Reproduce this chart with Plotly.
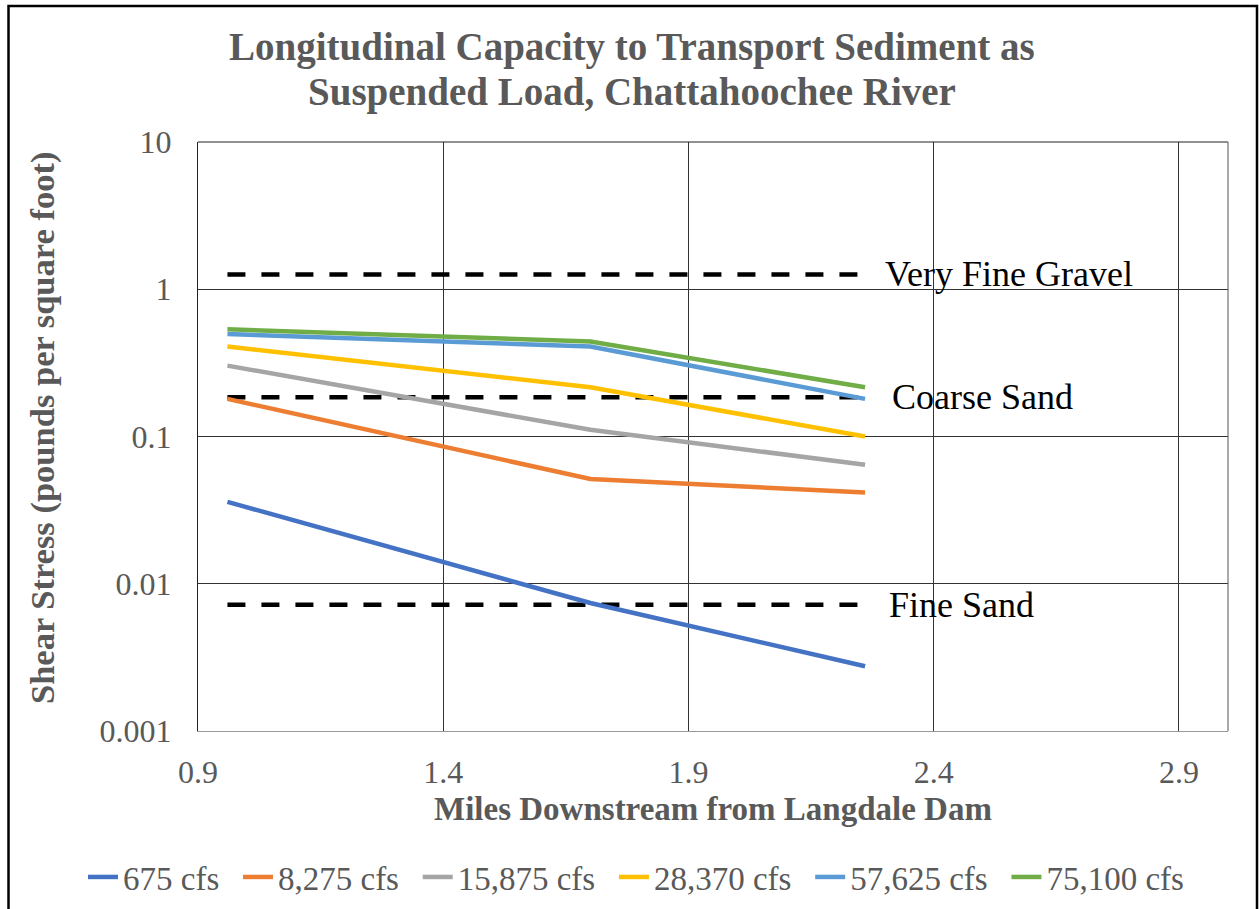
import plotly.graph_objects as go
import math

# ---------------- data ----------------
miles = [0.96, 1.70, 2.26]
series_names = ["675 cfs", "8,275 cfs", "15,875 cfs", "28,370 cfs", "57,625 cfs", "75,100 cfs"]
s675 = [0.036, 0.0074, 0.00275]
s8275 = [0.180, 0.0514, 0.0417]
s15875 = [0.303, 0.111, 0.0643]
s28370 = [0.408, 0.216, 0.100]
s57625 = [0.496, 0.408, 0.180]
s75100 = [0.535, 0.441, 0.216]
series_values = [s675, s8275, s15875, s28370, s57625, s75100]
series_colors = ["#4472C4", "#ED7D31", "#A5A5A5", "#FFC000", "#5B9BD5", "#70AD47"]

threshold_names = ["Very Fine Gravel", "Coarse Sand", "Fine Sand"]
threshold_values = [1.26, 0.185, 0.0072]
threshold_label_x = [2.296, 2.31, 2.304]

x_ticks = [0.9, 1.4, 1.9, 2.4, 2.9]
x_tick_text = ["0.9", "1.4", "1.9", "2.4", "2.9"]
y_ticks = [0.001, 0.01, 0.1, 1, 10]
y_tick_text = ["0.001", "0.01", "0.1", "1", "10"]

title_lines = ["Longitudinal Capacity to Transport Sediment as",
               "Suspended Load, Chattahoochee River"]
x_title = "Miles Downstream from Langdale Dam"
y_title = "Shear Stress (pounds per square foot)"

FONT = "Liberation Serif"
GRAY = "#595959"
PAD = "\u00a0\u2006"

fig = go.Figure()

# threshold dashed lines
for name, val in zip(threshold_names, threshold_values):
    fig.add_trace(go.Scatter(
        x=[miles[0], miles[-1]], y=[val, val], mode="lines",
        line=dict(color="black", width=4.5, dash="18px,16px"),
        showlegend=False, hoverinfo="skip", name=name))

for name, vals, col in zip(series_names, series_values, series_colors):
    fig.add_trace(go.Scatter(
        x=miles, y=vals, mode="lines", name=name + PAD,
        line=dict(color=col, width=4.5)))

for name, val, lx in zip(threshold_names, threshold_values, threshold_label_x):
    fig.add_annotation(x=lx, y=math.log10(val), xref="x", yref="y",
                       text=name, showarrow=False, xanchor="left", yanchor="middle",
                       font=dict(family=FONT, size=36, color="black"))

# plot area: x 198..1228, y 142..731
L, R, T, B = 198, 1228, 142, 731
W, H = 1259, 909
pw, ph = R - L, B - T

def px(xp):
    return (xp - L) / pw

def py(yp):
    return (B - yp) / ph

# title (two lines)
for line, yc in zip(title_lines, [47, 92]):
    fig.add_annotation(x=px(632), y=py(yc), xref="paper", yref="paper",
                       text="<b>" + line + "</b>", showarrow=False,
                       xanchor="center", yanchor="middle",
                       font=dict(family=FONT, size=39, color=GRAY))

# y axis title
fig.add_annotation(x=px(42), y=py(428), xref="paper", yref="paper",
                   text="<b>" + y_title + "</b>", showarrow=False, textangle=-90,
                   xanchor="center", yanchor="middle",
                   font=dict(family=FONT, size=34.5, color=GRAY))

shapes = [
    # outer frame
    dict(type="rect", xref="paper", yref="paper",
         x0=px(8.5), x1=px(1257), y0=py(930), y1=py(6),
         line=dict(color="black", width=2.5), fillcolor="rgba(0,0,0,0)", layer="above"),
    # top & right plot border
    dict(type="line", xref="paper", yref="paper", x0=0, x1=1, y0=1, y1=1,
         line=dict(color="#222222", width=1)),
    dict(type="line", xref="paper", yref="paper", x0=1, x1=1, y0=0, y1=1,
         line=dict(color="#555555", width=1)),
]

fig.update_layout(
    width=W, height=H,
    margin=dict(l=L, r=W - R, t=T, b=H - B, autoexpand=False),
    paper_bgcolor="white", plot_bgcolor="white",
    shapes=shapes,
    legend=dict(orientation="h", x=px(83), xanchor="left",
                y=py(877), yanchor="middle",
                font=dict(family=FONT, size=33, color=GRAY),
                itemwidth=30, tracegroupgap=0, bgcolor="rgba(0,0,0,0)"),
    xaxis=dict(range=[0.9, 3.0], tickvals=x_ticks, ticktext=x_tick_text,
               showgrid=True, gridcolor="#333333", gridwidth=1,
               showline=True, linecolor="#999999", linewidth=1,
               ticks="", ticklabelstandoff=13, zeroline=False,
               tickfont=dict(family=FONT, size=32, color=GRAY),
               title=dict(text="<b>" + x_title + "</b>", standoff=7,
                          font=dict(family=FONT, size=33, color=GRAY))),
    yaxis=dict(type="log", range=[-3, 1], tickvals=y_ticks, ticktext=y_tick_text,
               showgrid=True, gridcolor="#333333", gridwidth=1,
               showline=True, linecolor="#222222", linewidth=1,
               ticks="", ticklabelstandoff=19, zeroline=False,
               tickfont=dict(family=FONT, size=32, color=GRAY)),
)

fig.write_html("out.html")
